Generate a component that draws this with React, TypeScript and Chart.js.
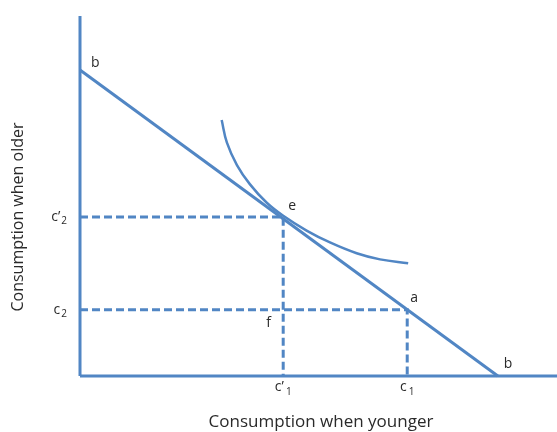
import { useEffect, useRef } from "react";
import { Chart, registerables } from "chart.js";

Chart.register(...registerables);

// Budget line b–b (intercepts on each axis)
const budgetX = [0, 87.6];
const budgetY = [85.0, 0];

// Indifference curve
const curveX = [29.7, 30.8, 32.9, 35.6, 39.1, 42.6, 47.5, 52.4, 58.0, 62.9, 68.8];
const curveY = [71.1, 64.8, 58.6, 53.3, 48.2, 44.5, 40.4, 37.1, 34.1, 32.4, 31.3];

// Consumption points e (optimum) and a (endowment)
const pointNames = ["e", "a"];
const pointX = [42.6, 68.6];
const pointY = [44.2, 18.4];

// Tick labels (base + subscript)
const xTickBase = ["c\u2019", "c"];
const xTickSub = ["1", "1"];
const yTickBase = ["c\u2019", "c"];
const yTickSub = ["2", "2"];

const budgetLabel = "b";
const crossLabel = "f";
const xTitle = "Consumption when younger";
const yTitle = "Consumption when older";
const axisMax = 100;

const BLUE = "#5186C4";
const TEXT = "#2a2a2a";
const FONT = "'Open Sans', 'Liberation Sans', sans-serif";

export default function App() {
  const ref = useRef<HTMLCanvasElement | null>(null);

  useEffect(() => {
    if (!ref.current) return;

    const labelPlugin = {
      id: "labels",
      afterDatasetsDraw(chart: any) {
        const ctx = chart.ctx;
        const xs = chart.scales.x;
        const ys = chart.scales.y;
        const px = (v: number) => xs.getPixelForValue(v);
        const py = (v: number) => ys.getPixelForValue(v);
        ctx.save();
        ctx.fillStyle = TEXT;
        ctx.textBaseline = "middle";

        const big = `14px ${FONT}`;
        const small = `10px ${FONT}`;

        // letters
        ctx.font = big;
        ctx.textAlign = "left";
        ctx.fillText(budgetLabel, px(budgetX[0]) + 11, py(budgetY[0]) - 7);
        ctx.fillText(budgetLabel, px(budgetX[1]) + 6, py(budgetY[1]) - 12);
        ctx.fillText(pointNames[0], px(pointX[0]) + 5, py(pointY[0]) - 11);
        ctx.fillText(pointNames[1], px(pointX[1]) + 3, py(pointY[1]) - 12);
        ctx.fillText(crossLabel, px(pointX[0]) - 17, py(pointY[1]) + 13);

        // y tick labels
        for (let i = 0; i < yTickBase.length; i++) {
          const y = py(pointY[i]);
          ctx.font = small;
          const sw = ctx.measureText(yTickSub[i]).width;
          const right = px(0) - 13;
          ctx.textAlign = "right";
          ctx.fillText(yTickSub[i], right, y + 4);
          ctx.font = big;
          ctx.fillText(yTickBase[i], right - sw - 1, y);
        }

        // x tick labels
        for (let i = 0; i < xTickBase.length; i++) {
          const x = px(pointX[i]);
          ctx.font = big;
          const bw = ctx.measureText(xTickBase[i]).width;
          ctx.font = small;
          const sw = ctx.measureText(xTickSub[i]).width;
          const start = x - (bw + sw + 2) / 2;
          ctx.textAlign = "left";
          ctx.font = big;
          ctx.fillText(xTickBase[i], start, py(0) + 11);
          ctx.font = small;
          ctx.fillText(xTickSub[i], start + bw + 2, py(0) + 16);
        }

        // axis titles
        ctx.font = `17px ${FONT}`;
        ctx.textAlign = "center";
        ctx.fillText(xTitle, 321, 422);
        ctx.font = `16px ${FONT}`;
        ctx.save();
        ctx.translate(18, 217);
        ctx.rotate(-Math.PI / 2);
        ctx.fillText(yTitle, 0, 0);
        ctx.restore();

        ctx.restore();
      },
    };

    const line = (data: { x: number; y: number }[], width: number, dash: number[] = [], tension = 0) => ({
      data,
      showLine: true,
      borderColor: BLUE,
      backgroundColor: BLUE,
      borderWidth: width,
      borderDash: dash,
      pointRadius: 0,
      fill: false,
      clip: false as any,
      tension,
    });

    const dashed = pointX.map((x, i) =>
      line(
        [
          { x: 0, y: pointY[i] },
          { x, y: pointY[i] },
          { x, y: 0 },
        ],
        3,
        [8, 4]
      )
    );

    const chart = new Chart(ref.current, {
      type: "scatter",
      data: {
        datasets: [
          ...dashed,
          line([{ x: 0, y: 0 }, { x: 0, y: axisMax }], 3),
          line([{ x: 0, y: 0 }, { x: axisMax, y: 0 }], 3),
          line(budgetX.map((x, i) => ({ x, y: budgetY[i] })), 3),
          line(curveX.map((x, i) => ({ x, y: curveY[i] })), 2.5, [], 0.4),
        ] as any,
      },
      options: {
        animation: false,
        responsive: true,
        maintainAspectRatio: false,
        layout: { padding: { left: 80, right: 0, top: 16, bottom: 56 } },
        plugins: { legend: { display: false }, tooltip: { enabled: false } },
        scales: {
          x: { type: "linear", min: 0, max: axisMax, display: false },
          y: { type: "linear", min: 0, max: axisMax, display: false },
        },
      },
      plugins: [labelPlugin],
    });
    return () => chart.destroy();
  }, []);

  return (
    <div style={{ position: "fixed", left: 0, top: 0, width: 557, height: 432, background: "#fff" }}>
      <canvas ref={ref} />
    </div>
  );
}
